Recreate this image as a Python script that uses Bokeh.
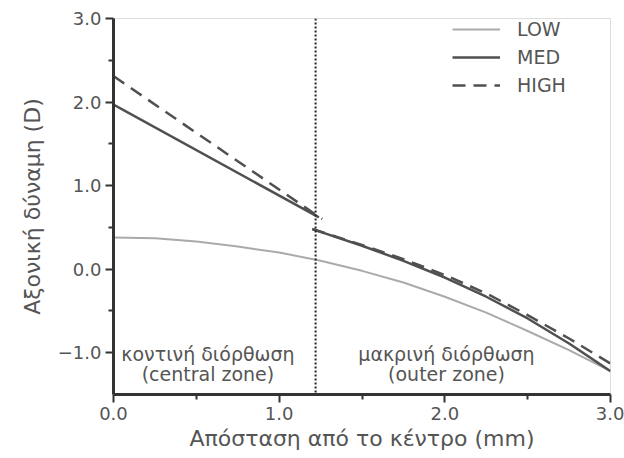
from bokeh.plotting import figure
from bokeh.models import Span, Legend, LegendItem, FixedTicker, Range1d
from bokeh.core.properties import value
from bokeh.embed import file_html
from bokeh.resources import INLINE

# Data
x_low = [0.0, 0.25, 0.5, 0.75, 1.0, 1.25, 1.5, 1.75, 2.0, 2.25, 2.5, 2.75, 3.0]
y_low = [0.38, 0.37, 0.33, 0.27, 0.20, 0.10, -0.02, -0.16, -0.33, -0.52, -0.74, -0.97, -1.22]

x_med_central = [0.0, 1.24]
y_med_central = [1.97, 0.62]
x_high_central = [0.0, 1.26]
y_high_central = [2.31, 0.60]

x_outer = [1.2, 1.5, 1.75, 2.0, 2.25, 2.5, 2.75, 3.0]
y_med_outer = [0.48, 0.28, 0.10, -0.10, -0.33, -0.59, -0.89, -1.22]
y_high_outer = [0.48, 0.29, 0.12, -0.07, -0.29, -0.55, -0.83, -1.13]

zone_boundary = 1.22

x_ticks = [0.0, 1.0, 2.0, 3.0]
x_minor = [0.5, 1.5, 2.5]
y_ticks = [-1.0, 0.0, 1.0, 2.0, 3.0]
y_minor = [-0.5, 0.5, 1.5, 2.5]
x_tick_labels = {0.0: "0.0", 1.0: "1.0", 2.0: "2.0", 3.0: "3.0"}
y_tick_labels = {-1.0: "\u22121.0", 0.0: "0.0", 1.0: "1.0", 2.0: "2.0", 3.0: "3.0"}

zone_text_x = [0.57, 2.01]
zone_text_y1 = [-1.02, -1.02]
zone_text_y2 = [-1.25, -1.25]
zone_line1 = ["κοντινή διόρθωση", "μακρινή διόρθωση"]
zone_line2 = ["(central zone)", "(outer zone)"]

series_labels = ["LOW", "MED", "HIGH"]

FONT = "DejaVu Sans"
TXT = "#555555"
AX = "#333333"

p = figure(width=624, height=458, output_backend="svg", toolbar_location=None,
           x_range=Range1d(0, 3.0), y_range=Range1d(-1.5, 3.0),
           min_border_left=113, min_border_right=14, min_border_top=18, min_border_bottom=64)
p.background_fill_color = "white"
p.border_fill_color = "white"
p.outline_line_color = "#dddddd"
p.outline_line_width = 1
p.grid.visible = False

for ax in (p.xaxis[0], p.yaxis[0]):
    ax.axis_line_color = AX
    ax.axis_line_width = 3
    ax.major_tick_line_color = AX
    ax.major_tick_line_width = 2
    ax.minor_tick_line_color = AX
    ax.minor_tick_line_width = 2
    ax.major_tick_out = 8
    ax.major_tick_in = 0
    ax.minor_tick_out = 5
    ax.minor_tick_in = 0
    ax.major_label_text_font = FONT
    ax.major_label_text_font_size = "18px"
    ax.major_label_text_color = TXT
    ax.axis_label_text_font = FONT
    ax.axis_label_text_font_size = "22px"
    ax.axis_label_text_font_style = "normal"
    ax.axis_label_text_color = TXT
    ax.major_label_standoff = 4

p.xaxis.ticker = FixedTicker(ticks=x_ticks, minor_ticks=x_minor)
p.yaxis.ticker = FixedTicker(ticks=y_ticks, minor_ticks=y_minor)
p.xaxis.major_label_overrides = x_tick_labels
p.yaxis.major_label_overrides = y_tick_labels
p.xaxis.axis_label = "Απόσταση από το κέντρο (mm)"
p.yaxis.axis_label = "Αξονική δύναμη (D)"
p.xaxis.axis_label_standoff = 3
p.yaxis.axis_label_standoff = 10

r_low = p.line(x_low, y_low, line_color="#aaaaaa", line_width=2)
r_med1 = p.line(x_med_central, y_med_central, line_color="#505050", line_width=2.5)
r_high1 = p.line(x_high_central, y_high_central, line_color="#505050", line_width=2.5, line_dash="13 8")
r_med2 = p.line(x_outer, y_med_outer, line_color="#505050", line_width=2.5)
r_high2 = p.line(x_outer, y_high_outer, line_color="#505050", line_width=2.5, line_dash="13 8")

p.add_layout(Span(location=zone_boundary, dimension="height", line_color="#222222",
                  line_width=2, line_dash="2 2"))

p.text(x=zone_text_x, y=zone_text_y1, text=zone_line1, text_font=value(FONT),
       text_font_size="19px", text_color=TXT, text_align="center", text_baseline="middle")
p.text(x=zone_text_x, y=zone_text_y2, text=zone_line2, text_font=value(FONT),
       text_font_size="19px", text_color=TXT, text_align="center", text_baseline="middle")

legend = Legend(items=[LegendItem(label=series_labels[0], renderers=[r_low]),
                       LegendItem(label=series_labels[1], renderers=[r_med1]),
                       LegendItem(label=series_labels[2], renderers=[r_high1])],
                location=(339, 298))
legend.background_fill_alpha = 0
legend.border_line_color = None
legend.label_text_font = FONT
legend.label_text_font_size = "19px"
legend.label_text_color = TXT
legend.glyph_width = 48
legend.glyph_height = 20
legend.label_height = 20
legend.label_standoff = 17
legend.spacing = 6
legend.padding = 0
legend.margin = 0
p.add_layout(legend, "center")

open("out.html", "w").write(file_html(p, INLINE))
